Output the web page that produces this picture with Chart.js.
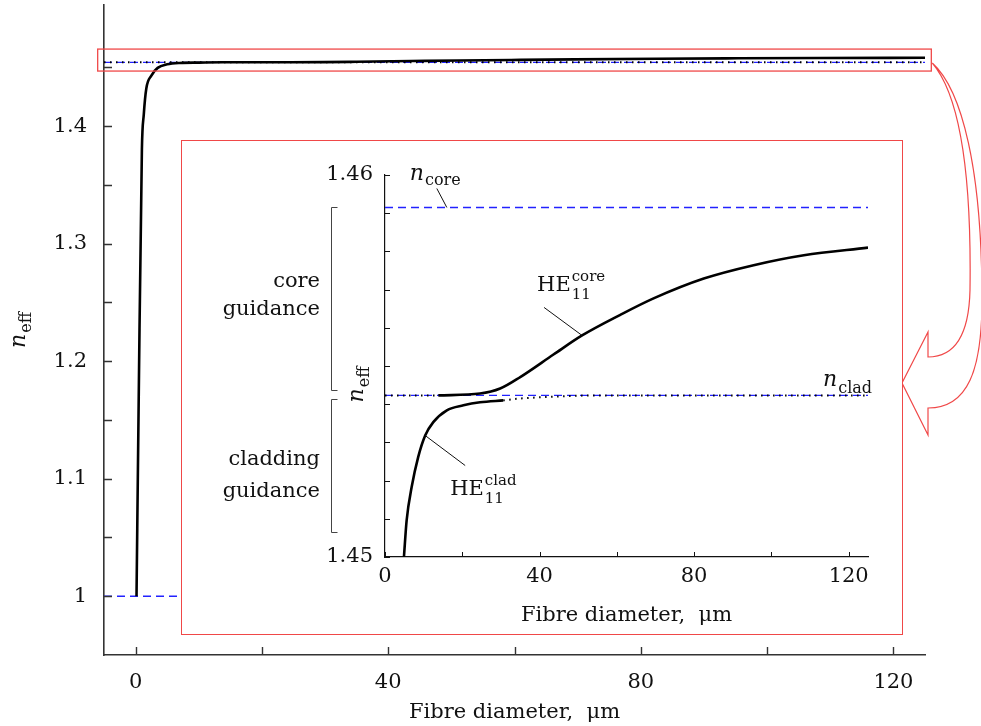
<!DOCTYPE html>
<html>
<head>
<meta charset="utf-8">
<script src="https://cdn.jsdelivr.net/npm/chart.js@4.4.0/dist/chart.umd.min.js"></script>
<style>
  body { margin: 0; background: #fff; }
  #wrap { position: relative; width: 981px; height: 726px; }
  #insetBox { position: absolute; left: 181px; top: 140px; width: 720px; height: 493px;
              border: 1px solid #f04848; background: #fff; }
  canvas { display: block; }
</style>
</head>
<body>
<div id="wrap">
  <canvas id="main" width="981" height="726"></canvas>
  <div id="insetBox"><canvas id="inset" width="720" height="493"></canvas></div>
</div>
<script>
// refractive indices
const nAir = 1.0;
const nClad = 1.45423;
const nCore = 1.45915;

// HE11 core-guided branch: fibre diameter (um) / n_eff
const coreD = [13.8, 24.6, 29.8, 35.0, 43.6, 51.0, 60.9, 69.5, 82.5, 95.4, 108.4, 125];
const coreN = [1.45423, 1.45428, 1.45441, 1.45471, 1.45530, 1.45580, 1.45634, 1.45677, 1.45729, 1.45764, 1.45790, 1.45810];

// HE11 cladding-guided branch
const cladD = [4.9, 5.6, 6.9, 8.6, 10.4, 12.5, 16.0, 20.3, 24.6, 30.6];
const cladN = [1.4500, 1.45096, 1.45183, 1.45262, 1.45318, 1.45353, 1.45384, 1.45397, 1.45405, 1.45410];

// cladding branch continued (dotted)
const cladTailD = [30.6, 34, 42, 55, 125];
const cladTailN = [1.45410, 1.45414, 1.45419, 1.45423, 1.45423];

// core branch below cut-off, sitting on n_clad (dotted)
const coreLowD = [0, 13.8];

// thin-fibre rise from the air index (full view)
const riseD = [0.15, 0.5, 1.0, 1.3, 1.7, 2.5, 3.5, 5.0, 7.0, 10.0];
const riseN = [1.0, 1.17, 1.38, 1.41, 1.432, 1.443, 1.4495, 1.4525, 1.4537, 1.4540];

// reference lines
const fullRange = [-5, 125];
const airRange = [-5, 8];
const insetRange = [0, 125];

// axis ticks and labels
const mainXTicks = [0, 20, 40, 60, 80, 100, 120];
const mainXLabels = [0, 40, 80, 120];
const mainYTicks = [1.0, 1.05, 1.1, 1.15, 1.2, 1.25, 1.3, 1.35, 1.4, 1.45];
const mainYLabels = [1.0, 1.1, 1.2, 1.3, 1.4];
const insetXTicks = [0, 20, 40, 60, 80, 100, 120];
const insetXLabels = [0, 40, 80, 120];
const insetYTicks = [1.450, 1.451, 1.452, 1.453, 1.454, 1.455, 1.456, 1.457, 1.458, 1.459, 1.460];
const insetYLabels = [1.45, 1.46];

// zoomed region marked on the full view
const zoomBoxD = [-6, 126];
const zoomBoxN = [1.4468, 1.4655];

// bracket spans on the inset
const coreBracket = [nClad + 0.00015, nCore];
const cladBracket = [1.45065, nClad - 0.0001];

const FONT = '"DejaVu Serif", "Liberation Serif", serif';
const BLUE = '#2222ff';
const RED = '#f04848';
const AXIS = '#333';

Chart.defaults.font.family = FONT;
Chart.defaults.font.size = 21;
Chart.defaults.color = '#111';

function pts(xs, ys) { return xs.map((x, i) => ({ x, y: ys[i] })); }
function flat(xs, v) { return xs.map(x => ({ x, y: v })); }

function series(data, color, width, dash) {
  return {
    data, borderColor: color, borderWidth: width, borderDash: dash || [],
    showLine: true, pointRadius: 0, cubicInterpolationMode: 'monotone', fill: false
  };
}

function near(list, v) { return list.some(l => Math.abs(l - v) < 1e-9); }

// keep the plot area exactly where the layout padding puts it
function noEdgePad(s) {
  s.paddingTop = 0; s.paddingBottom = 0; s.paddingLeft = 0; s.paddingRight = 0;
}

// tick marks pointing into the plot
const inwardTicks = {
  id: 'inwardTicks',
  afterDatasetsDraw(chart, args, o) {
    const { ctx, chartArea: a, scales: { x, y } } = chart;
    ctx.save();
    ctx.strokeStyle = o.color;
    ctx.lineWidth = o.width;
    ctx.beginPath();
    x.ticks.forEach(t => {
      const px = Math.round(x.getPixelForValue(t.value)) + 0.5;
      ctx.moveTo(px, a.bottom);
      ctx.lineTo(px, a.bottom - o.length);
    });
    y.ticks.forEach(t => {
      const py = Math.round(y.getPixelForValue(t.value)) + 0.5;
      ctx.moveTo(a.left, py);
      ctx.lineTo(a.left + o.length, py);
    });
    ctx.stroke();
    ctx.restore();
  }
};

// text with sub/superscript, left aligned on the baseline
function indexed(ctx, x, y, base, sub, sup, size, italic, subDy, supDy, small) {
  ctx.font = (italic ? 'italic ' : '') + size + 'px ' + FONT;
  ctx.textAlign = 'left';
  ctx.textBaseline = 'alphabetic';
  ctx.fillText(base, x, y);
  const w = ctx.measureText(base).width;
  ctx.font = (small || 15) + 'px ' + FONT;
  let w2 = 0;
  if (sup) { ctx.fillText(sup, x + w + 1, y + supDy); w2 = ctx.measureText(sup).width; }
  if (sub) { ctx.fillText(sub, x + w + 1, y + subDy); w2 = Math.max(w2, ctx.measureText(sub).width); }
  return w + 1 + w2;
}

function neffVertical(ctx, cx, cy) {
  ctx.save();
  ctx.translate(cx, cy);
  ctx.rotate(-Math.PI / 2);
  ctx.font = 'italic 22px ' + FONT;
  const w1 = ctx.measureText('n').width;
  ctx.font = '16px ' + FONT;
  const w2 = ctx.measureText('eff').width;
  indexed(ctx, -(w1 + w2 + 1) / 2, 5, 'n', 'eff', null, 22, true, 6, 0, 16);
  ctx.restore();
}

function leader(ctx, x1, y1, x2, y2) {
  ctx.beginPath();
  ctx.moveTo(x1, y1);
  ctx.lineTo(x2, y2);
  ctx.stroke();
}

// full view: zoom box, arrow and axis titles
const mainDecor = {
  id: 'mainDecor',
  afterDraw(chart) {
    const { ctx, chartArea: a, scales: { x, y } } = chart;
    ctx.save();
    ctx.strokeStyle = RED;
    ctx.lineWidth = 1.3;
    const bx1 = x.getPixelForValue(zoomBoxD[0]), bx2 = x.getPixelForValue(zoomBoxD[1]);
    const by1 = y.getPixelForValue(zoomBoxN[1]), by2 = y.getPixelForValue(zoomBoxN[0]);
    ctx.strokeRect(bx1, by1, bx2 - bx1, by2 - by1);

    // hollow curved arrow from the zoom box to the inset
    const box = document.getElementById('insetBox');
    const tx = box.offsetLeft + box.offsetWidth - 1;
    const ty = box.offsetTop + 243;
    const sx = bx2 + 1, sy = by2 - 8;
    ctx.lineWidth = 1.2;
    ctx.beginPath();
    ctx.moveTo(sx, sy);
    ctx.bezierCurveTo(sx + 36, sy + 42, tx + 69, sy + 157, tx + 68, ty - 93);
    ctx.bezierCurveTo(tx + 67, ty - 48, tx + 53, ty - 26, tx + 26, ty - 26);
    ctx.lineTo(tx + 26, ty - 51);
    ctx.lineTo(tx, ty);
    ctx.lineTo(tx + 26, ty + 52);
    ctx.lineTo(tx + 26, ty + 25);
    ctx.bezierCurveTo(tx + 66, ty + 25, tx + 80, ty - 13, tx + 80, ty - 83);
    ctx.bezierCurveTo(tx + 80, sy + 107, sx + 30, sy + 27, sx, sy);
    ctx.stroke();

    ctx.fillStyle = '#111';
    ctx.font = '21px ' + FONT;
    ctx.textAlign = 'center';
    ctx.textBaseline = 'alphabetic';
    ctx.fillText('Fibre diameter,  \u03bcm', (a.left + a.right) / 2, a.bottom + 63);
    neffVertical(ctx, a.left - 84, (a.top + a.bottom) / 2);
    ctx.restore();
  }
};

// inset: labels, leaders, brackets and titles
const insetDecor = {
  id: 'insetDecor',
  afterDraw(chart) {
    const { ctx, chartArea: a, scales: { x, y } } = chart;
    const P = (d, n) => ({ x: x.getPixelForValue(d), y: y.getPixelForValue(n) });
    ctx.save();
    ctx.fillStyle = '#111';
    ctx.strokeStyle = '#111';
    ctx.lineWidth = 1;

    // n_core
    let p = P(16, nCore);
    leader(ctx, p.x, p.y, p.x - 10, p.y - 19);
    indexed(ctx, p.x - 37, p.y - 27, 'n', 'core', null, 22, true, 5, 0, 16);

    // n_clad
    p = P(insetRange[1], nClad);
    indexed(ctx, p.x - 45, p.y - 9, 'n', 'clad', null, 22, true, 6.5, 0, 16);

    // HE11 core
    p = P(coreD[5], coreN[5]);
    leader(ctx, p.x, p.y, p.x - 38, p.y - 28);
    indexed(ctx, p.x - 45, p.y - 44, 'HE', '11', 'core', 21, false, 8, -10);

    // HE11 clad
    p = P(cladD[4], cladN[4]);
    leader(ctx, p.x, p.y, p.x + 40, p.y + 30);
    indexed(ctx, p.x + 25, p.y + 59, 'HE', '11', 'clad', 21, false, 8, -10);

    // guidance brackets
    const bx = Math.round(a.left - 54) + 0.5;
    ctx.strokeStyle = '#444';
    [coreBracket, cladBracket].forEach(b => {
      const yt = Math.round(y.getPixelForValue(b[1])) + 0.5;
      const yb = Math.round(y.getPixelForValue(b[0])) + 0.5;
      ctx.beginPath();
      ctx.moveTo(bx + 6, yt); ctx.lineTo(bx, yt); ctx.lineTo(bx, yb); ctx.lineTo(bx + 6, yb);
      ctx.stroke();
    });
    ctx.font = '21px ' + FONT;
    ctx.textAlign = 'right';
    const tx = a.left - 65;
    const ct = y.getPixelForValue(coreBracket[1]);
    ctx.fillText('core', tx, ct + 80);
    ctx.fillText('guidance', tx, ct + 108);
    const lt = y.getPixelForValue(cladBracket[1]);
    ctx.fillText('cladding', tx, lt + 66);
    ctx.fillText('guidance', tx, lt + 98);

    ctx.textAlign = 'center';
    ctx.fillText('Fibre diameter,  \u03bcm', (a.left + a.right) / 2, a.bottom + 64);
    neffVertical(ctx, a.left - 27, y.getPixelForValue(nClad) - 11);
    ctx.restore();
  }
};

new Chart(document.getElementById('main'), {
  type: 'scatter',
  data: {
    datasets: [
      series(pts(riseD.concat(coreD), riseN.concat(coreN)), '#000', 2.6),
      series(flat(fullRange, nClad), '#000', 2, [1.5, 4.5]),
      series(flat(fullRange, nClad), BLUE, 1.3, [8, 5]),
      series(flat(airRange, nAir), BLUE, 1.3, [8, 5])
    ]
  },
  options: {
    responsive: false,
    animation: false,
    layout: { padding: { left: 0, right: 56, top: 5, bottom: 0 } },
    plugins: {
      legend: { display: false },
      tooltip: { enabled: false },
      inwardTicks: { color: AXIS, width: 1.4, length: 8 }
    },
    scales: {
      x: {
        type: 'linear', min: -5, max: 125,
        afterBuildTicks: s => { s.ticks = mainXTicks.map(value => ({ value })); },
        afterFit: s => { s.height = 71; noEdgePad(s); },
        grid: { display: false, drawTicks: false },
        border: { display: true, color: AXIS, width: 1.6 },
        ticks: { autoSkip: false, maxRotation: 0, padding: 15,
                 callback: v => near(mainXLabels, v) ? String(v) : '' }
      },
      y: {
        type: 'linear', min: 0.95, max: 1.503,
        afterBuildTicks: s => { s.ticks = mainYTicks.map(value => ({ value })); },
        afterFit: s => { s.width = 104; noEdgePad(s); },
        grid: { display: false, drawTicks: false },
        border: { display: true, color: AXIS, width: 1.6 },
        ticks: { autoSkip: false, padding: 17,
                 callback: v => near(mainYLabels, v) ? String(v) : '' }
      }
    }
  },
  plugins: [inwardTicks, mainDecor]
});

new Chart(document.getElementById('inset'), {
  type: 'scatter',
  data: {
    datasets: [
      series(pts(coreD, coreN), '#000', 2.6),
      series(pts(cladD, cladN), '#000', 2.6),
      series(pts(cladTailD, cladTailN), '#000', 2, [1.5, 4.5]),
      series(flat(coreLowD, nClad), '#000', 2, [1.5, 4.5]),
      series(flat(insetRange, nClad), BLUE, 1.4, [8, 5]),
      series(flat(insetRange, nCore), BLUE, 1.4, [8, 5])
    ]
  },
  options: {
    responsive: false,
    animation: false,
    layout: { padding: { left: 0, right: 34, top: 34, bottom: 0 } },
    plugins: {
      legend: { display: false },
      tooltip: { enabled: false },
      inwardTicks: { color: '#111', width: 1, length: 5 }
    },
    scales: {
      x: {
        type: 'linear', min: 0, max: 125,
        afterBuildTicks: s => { s.ticks = insetXTicks.map(value => ({ value })); },
        afterFit: s => { s.height = 77; noEdgePad(s); },
        grid: { display: false, drawTicks: false },
        border: { display: true, color: '#111', width: 1.2 },
        ticks: { autoSkip: false, maxRotation: 0, padding: 7,
                 callback: v => near(insetXLabels, v) ? String(v) : '' }
      },
      y: {
        type: 'linear', min: 1.45, max: 1.46,
        afterBuildTicks: s => { s.ticks = insetYTicks.map(value => ({ value })); },
        afterFit: s => { s.width = 203; noEdgePad(s); },
        grid: { display: false, drawTicks: false },
        border: { display: true, color: '#111', width: 1.2 },
        ticks: { autoSkip: false, padding: 12,
                 callback: v => near(insetYLabels, v) ? String(v) : '' }
      }
    }
  },
  plugins: [inwardTicks, insetDecor]
});
</script>
</body>
</html>
